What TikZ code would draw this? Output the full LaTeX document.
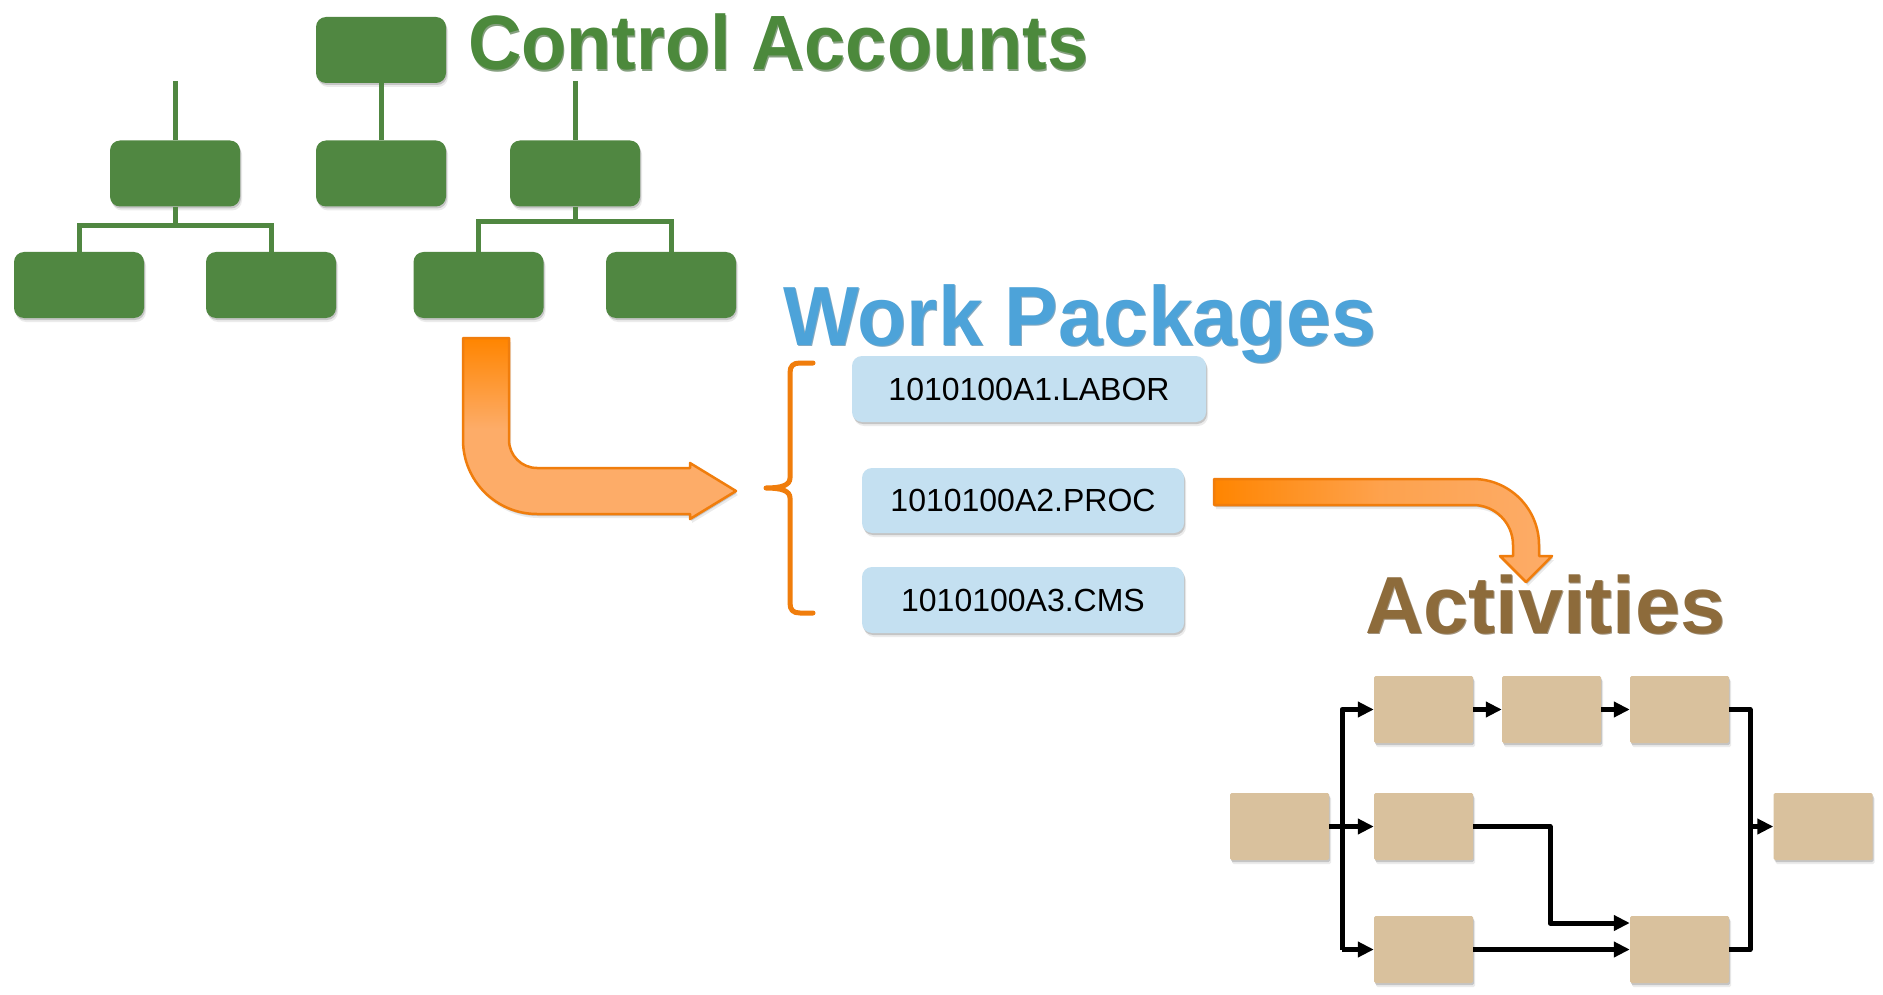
\documentclass[tikz,border=0pt]{standalone}
\usepackage{fontspec}
\setmainfont{Liberation Sans}
\usetikzlibrary{arrows.meta,shadows}

\definecolor{cagreen}{RGB}{80,135,65}
\definecolor{catext}{RGB}{76,137,60}
\definecolor{wpblue}{RGB}{196,224,241}
\definecolor{wptext}{RGB}{77,163,217}
\definecolor{acttan}{RGB}{217,193,157}
\definecolor{acttext}{RGB}{141,107,59}
\definecolor{ordark}{RGB}{255,133,0}
\definecolor{orlight}{RGB}{253,172,104}
\definecolor{oredge}{RGB}{240,125,12}

\tikzset{
  softshadow/.style={
    drop shadow={shadow xshift=1pt,shadow yshift=-2pt,opacity=0.16,fill=black},
    drop shadow={shadow xshift=2pt,shadow yshift=-4pt,opacity=0.08,fill=black}},
  cabox/.style={rectangle, rounded corners=10pt, fill=cagreen,
    minimum width=130pt, minimum height=66pt, inner sep=0pt, softshadow},
  wpbox/.style={rectangle, rounded corners=10pt, fill=wpblue,
    minimum height=66pt, inner sep=0pt, softshadow,
    font=\fontsize{32}{38}\selectfont},
  actbox/.style={rectangle, rounded corners=1.5pt, fill=acttan,
    minimum width=99pt, minimum height=67pt, inner sep=0pt, softshadow},
  treeline/.style={draw=cagreen, line width=5pt},
  flowline/.style={draw=black, line width=5pt, line join=round},
  flowarrow/.style={flowline, -{Triangle[length=16pt,width=15pt]}},
  title/.style={anchor=base west, inner sep=0pt},
  bigarrow/.style={draw=oredge, line width=2.5pt, line join=round},
}

\begin{document}
\begin{tikzpicture}[x=1pt,y=-1pt]
  \fill[white] (0,0) rectangle (1883,995);
  \useasboundingbox (0,0) rectangle (1883,995);

  % ---------- control account tree ----------
  \node[cabox] (top) at (381,50) {};
  \node[cabox] (m1) at (175,173.5) {};
  \node[cabox] (m2) at (381,173.5) {};
  \node[cabox] (m3) at (575,173.5) {};
  \node[cabox] (b1) at (79,285) {};
  \node[cabox] (b2) at (271,285) {};
  \node[cabox] (b3) at (478.5,285) {};
  \node[cabox] (b4) at (671,285) {};

  \coordinate (stubL) at (175,81);
  \coordinate (stubR) at (575,81);
  \coordinate (barL) at (175,226);
  \coordinate (barR) at (575,222);

  \draw[treeline] (top.south) -- (m2.north);
  \draw[treeline] (stubL) -- (m1.north);
  \draw[treeline] (stubR) -- (m3.north);
  \draw[treeline] (m1.south) -- (barL);
  \draw[treeline] (b1.north) |- (barL) -| (b2.north);
  \draw[treeline] (m3.south) -- (barR);
  \draw[treeline] (b3.north) |- (barR) -| (b4.north);

  % ---------- titles (a darker copy underneath gives the bevelled edge) ----------
  \node[title, text=catext!70!black, opacity=0.6, font=\fontsize{77}{80}\selectfont\bfseries]
    (cashade) at (469,71.5) {\scalebox{0.96}[1]{Control Accounts}};
  \node[title, text=catext, font=\fontsize{77}{80}\selectfont\bfseries]
    (catitle) at (468,70) {\scalebox{0.96}[1]{Control Accounts}};

  \node[title, text=wptext!70!black, opacity=0.6, font=\fontsize{84}{88}\selectfont\bfseries]
    (wpshade) at (784,346.5) {\scalebox{0.957}[1]{Work Packages}};
  \node[title, text=wptext, font=\fontsize{84}{88}\selectfont\bfseries]
    (wptitle) at (783,345) {\scalebox{0.957}[1]{Work Packages}};

  \node[title, text=acttext!70!black, opacity=0.6, font=\fontsize{81}{85}\selectfont\bfseries]
    (actshade) at (1366,634.5) {Activities};
  \node[title, text=acttext, font=\fontsize{81}{85}\selectfont\bfseries]
    (acttitle) at (1365,633) {Activities};

  % ---------- bent arrow from the tree to the work packages ----------
  \path[bigarrow, softshadow, top color=ordark, bottom color=orlight, middle color=orlight]
    (463,338) -- (509,338) -- (509,440)
    arc[start angle=180, end angle=270, radius=28pt]
    -- (690,468) -- (690,463) -- (736,491) -- (690,519) -- (690,514) -- (537,514)
    arc[start angle=270, end angle=180, radius=74pt]
    -- cycle;

  % ---------- brace ----------
  \draw[draw=oredge, line width=5pt, line cap=round, line join=round]
    (813,363) -- (800,363) .. controls (793,363) and (790,366) .. (790,373)
    -- (790,478) .. controls (790,485) and (782,488) .. (766,488)
    .. controls (782,488) and (790,491) .. (790,498)
    -- (790,603) .. controls (790,610) and (793,613) .. (800,613) -- (813,613);

  % ---------- work packages ----------
  \node[wpbox, minimum width=354pt] (wp1) at (1029,389) {1010100A1.LABOR};
  \node[wpbox, minimum width=322pt, minimum height=65pt] (wp2) at (1023,500.5) {1010100A2.PROC};
  \node[wpbox, minimum width=322pt] (wp3) at (1023,600) {1010100A3.CMS};

  % ---------- bent arrow from the work packages to the activities ----------
  \path[bigarrow, softshadow, left color=ordark, right color=orlight, middle color=orlight!75!ordark]
    (1214,479) -- (1473,479)
    arc[start angle=90, end angle=0, radius=66pt]
    -- (1539,556) -- (1552,556) -- (1526,582) -- (1500,556) -- (1513,556) -- (1513,545)
    arc[start angle=0, end angle=90, radius=40pt]
    -- (1214,505) -- cycle;

  % ---------- activity network ----------
  \node[actbox] (a11) at (1423.5,709.5) {};
  \node[actbox] (a12) at (1551.5,709.5) {};
  \node[actbox] (a13) at (1679.5,709.5) {};
  \node[actbox] (a0)  at (1279.5,826.5) {};
  \node[actbox] (a21) at (1423.5,826.5) {};
  \node[actbox] (a23) at (1823,826.5) {};
  \node[actbox] (a31) at (1423.5,949.5) {};
  \node[actbox] (a33) at (1679.5,949.5) {};

  \coordinate (trunk) at (1342,0);
  \coordinate (bus) at (1750,0);
  \coordinate (jog) at (1550,923);

  \draw[flowarrow] (a31.west -| trunk) |- (a11.west);
  \draw[flowarrow] (a31.west -| trunk) -- (a31.west);
  \draw[flowarrow] (a0.east) -- (a21.west);
  \draw[flowarrow] (a11.east) -- (a12.west);
  \draw[flowarrow] (a12.east) -- (a13.west);
  \draw[flowarrow] (a21.east) -| (jog) -- (jog -| a33.west);
  \draw[flowarrow] (a31.east) -- (a33.west);
  \draw[flowline] (a13.east) -| (a33.east -| bus) -- (a33.east);
  \draw[flowarrow] (a23.west -| bus) -- (a23.west);
\end{tikzpicture}
\end{document}
